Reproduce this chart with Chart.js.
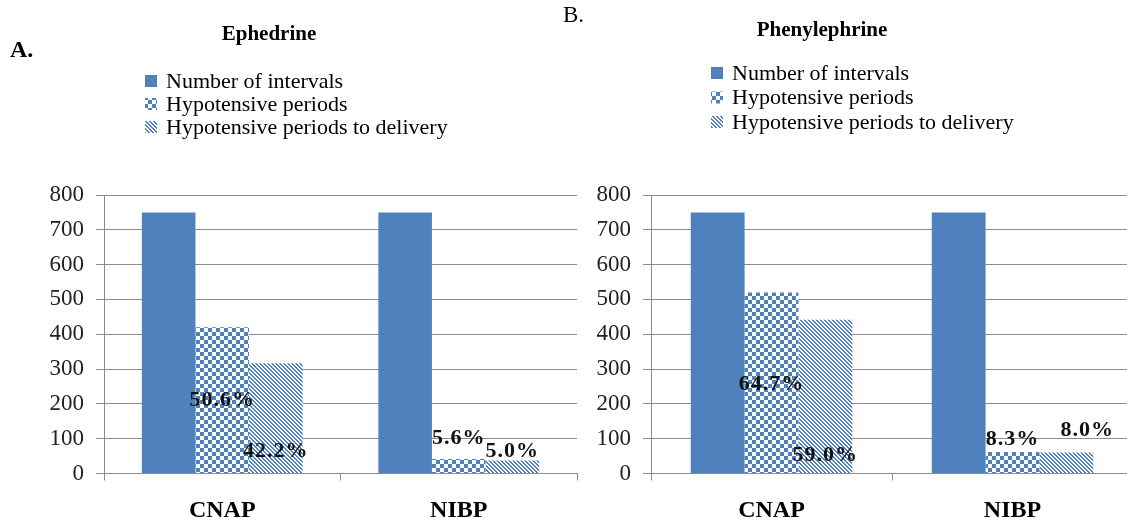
<!DOCTYPE html>
<html>
<head>
<meta charset="utf-8">
<script src="https://cdn.jsdelivr.net/npm/chart.js@4.4.1/dist/chart.umd.min.js"></script>
<style>
  html, body { margin: 0; padding: 0; background: #fff; overflow: hidden; }
  body { width: 1127px; height: 521px; position: relative; }
  .panel { position: absolute; top: 0; height: 521px; }
  #ephPanel { left: 0; width: 600px; }
  #phenPanel { left: 560px; width: 580px; }
</style>
</head>
<body>
<div class="panel" id="ephPanel"><canvas id="ephChart"></canvas></div>
<div class="panel" id="phenPanel"><canvas id="phenChart"></canvas></div>
<script>
// data
const categories = ['CNAP', 'NIBP'];
const seriesNames = ['Number of intervals', 'Hypotensive periods', 'Hypotensive periods to delivery'];

const ephIntervals = [750, 750];
const ephHypo = [420, 42];
const ephHypoDelivery = [317, 37];
const ephHypoPct = ['50.6%', '5.6%'];
const ephDeliveryPct = ['42.2%', '5.0%'];

const phenIntervals = [750, 750];
const phenHypo = [520, 62];
const phenHypoDelivery = [442, 60];
const phenHypoPct = ['64.7%', '8.3%'];
const phenDeliveryPct = ['59.0%', '8.0%'];

const yMin = 0;
const yMax = 800;
const yStep = 100;

const blue = '#4F81BD';
const gridGrey = '#8c8c8c';
const serif = '"Liberation Serif", "Times New Roman", serif';

Chart.defaults.font.family = serif;

// fill patterns like the Excel ones
function checkerPattern() {
    let c = document.createElement('canvas');
    c.width = 8; c.height = 8;
    let g = c.getContext('2d');
    g.fillStyle = '#fff';
    g.fillRect(0, 0, 8, 8);
    g.fillStyle = blue;
    g.fillRect(0, 0, 4, 4);
    g.fillRect(4, 4, 4, 4);
    return g.createPattern(c, 'repeat');
}

function stripePattern() {
    let c = document.createElement('canvas');
    c.width = 4; c.height = 4;
    let g = c.getContext('2d');
    g.fillStyle = '#fff';
    g.fillRect(0, 0, 4, 4);
    g.fillStyle = blue;
    for (let y = 0; y < 4; y++) {
        for (let x = 0; x < 4; x++) {
            let d = ((x - y) % 4 + 4) % 4;
            if (d == 0 || d == 1) g.fillRect(x, y, 1, 1);
        }
    }
    return g.createPattern(c, 'repeat');
}

// title, panel letter and legend drawn above the plot
function makeDecor(cfg) {
    return {
        id: 'panelDecor',
        afterDraw(chart) {
            let ctx = chart.ctx;
            ctx.save();
            ctx.fillStyle = '#000';
            ctx.textBaseline = 'alphabetic';
            ctx.textAlign = 'left';
            ctx.font = cfg.letterFont;
            ctx.fillText(cfg.letter, cfg.letterX, cfg.letterY);
            ctx.textAlign = 'center';
            ctx.font = 'bold 21px ' + serif;
            ctx.fillText(cfg.title, cfg.titleX, cfg.titleY);

            ctx.font = '22px ' + serif;
            ctx.textAlign = 'left';
            ctx.textBaseline = 'middle';
            chart.data.datasets.forEach((ds, i) => {
                let cy = cfg.legendY + i * cfg.legendGap;
                ctx.fillStyle = ds.backgroundColor;
                ctx.fillRect(cfg.legendX, cy - 6, 12, 12);
                ctx.fillStyle = '#000';
                ctx.fillText(ds.label, cfg.legendX + 21, cy + 1);
            });
            ctx.restore();
        }
    };
}

// percentage labels on the hypotensive bars
function makePctLabels(texts, places) {
    return {
        id: 'pctLabels',
        afterDatasetsDraw(chart) {
            let ctx = chart.ctx;
            ctx.save();
            ctx.font = 'bold 22px ' + serif;
            ctx.letterSpacing = '1px';
            ctx.fillStyle = '#111';
            ctx.textAlign = 'center';
            ctx.textBaseline = 'middle';
            texts.forEach((row, k) => {
                let meta = chart.getDatasetMeta(k + 1);
                row.forEach((txt, j) => {
                    let bar = meta.data[j];
                    let p = places[k][j];
                    let y;
                    if (p.at == 'mid') y = (bar.y + bar.base) / 2;
                    else if (p.at == 'base') y = bar.base;
                    else y = bar.y;
                    ctx.fillText(txt, bar.x + (p.dx || 0), y + p.dy);
                });
            });
            ctx.restore();
        }
    };
}

function buildChart(canvasId, values, yWidth, rightPad, catPct, decor, pctPlugin) {
    let ctx = document.getElementById(canvasId).getContext('2d');
    return new Chart(ctx, {
        type: 'bar',
        data: {
            labels: categories,
            datasets: [
                { label: seriesNames[0], data: values[0], backgroundColor: blue },
                { label: seriesNames[1], data: values[1], backgroundColor: checkerPattern() },
                { label: seriesNames[2], data: values[2], backgroundColor: stripePattern() }
            ]
        },
        options: {
            responsive: true,
            maintainAspectRatio: false,
            animation: false,
            layout: { padding: { top: 195, left: 0, right: rightPad, bottom: 0 } },
            datasets: {
                bar: { categoryPercentage: catPct, barPercentage: 1, borderWidth: 0 }
            },
            plugins: {
                legend: { display: false },
                title: { display: false },
                tooltip: { enabled: false }
            },
            scales: {
                x: {
                    afterFit(scale) { scale.height = 47.5; },
                    grid: {
                        display: true,
                        drawOnChartArea: false,
                        drawTicks: true,
                        tickLength: 7,
                        offset: true,
                        color: gridGrey
                    },
                    border: { display: true, color: gridGrey },
                    ticks: {
                        color: '#000',
                        padding: 16,
                        font: { size: 24, weight: 'bold' }
                    }
                },
                y: {
                    min: yMin,
                    max: yMax,
                    afterFit(scale) { scale.width = yWidth; },
                    grid: { color: gridGrey, tickLength: 8, drawTicks: true },
                    border: { display: true, color: gridGrey },
                    ticks: {
                        stepSize: yStep,
                        color: '#222',
                        padding: 12,
                        font: { size: 23 }
                    }
                }
            }
        },
        plugins: [decor, pctPlugin]
    });
}

buildChart('ephChart',
    [ephIntervals, ephHypo, ephHypoDelivery],
    104, 23, 0.68,
    makeDecor({
        letter: 'A.', letterFont: 'bold 24px ' + serif, letterX: 10, letterY: 57,
        title: 'Ephedrine', titleX: 269, titleY: 40,
        legendX: 145, legendY: 81, legendGap: 23
    }),
    makePctLabels([ephHypoPct, ephDeliveryPct], [
        [{ at: 'mid', dy: 0 }, { at: 'top', dy: -21 }],
        [{ at: 'base', dy: -22 }, { at: 'top', dy: -9 }]
    ])
);

buildChart('phenChart',
    [phenIntervals, phenHypo, phenHypoDelivery],
    91, 7, 0.67,
    makeDecor({
        letter: 'B.', letterFont: '23px ' + serif, letterX: 3, letterY: 22,
        title: 'Phenylephrine', titleX: 262, titleY: 36,
        legendX: 151, legendY: 73, legendGap: 24.5
    }),
    makePctLabels([phenHypoPct, phenDeliveryPct], [
        [{ at: 'mid', dy: 2 }, { at: 'top', dy: -13 }],
        [{ at: 'base', dy: -18 }, { at: 'top', dx: 21, dy: -22 }]
    ])
);
</script>
</body>
</html>
